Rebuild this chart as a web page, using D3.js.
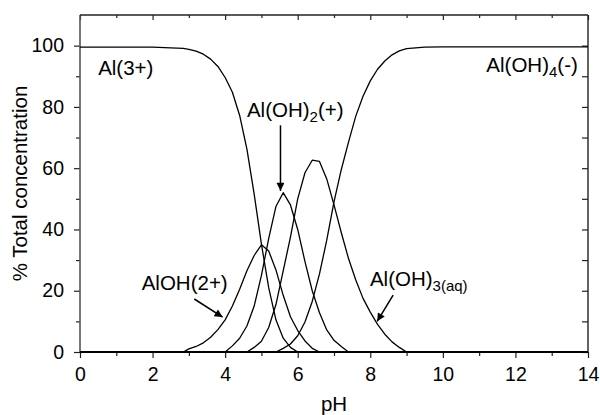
<!DOCTYPE html>
<html>
<head>
<meta charset="utf-8">
<script src="https://cdn.jsdelivr.net/npm/d3@7"></script>
<style>
  body { margin: 0; background: #fff; }
  svg text { font-family: "Liberation Sans", Arial, Helvetica, sans-serif; fill: #000; }
</style>
</head>
<body>
<div id="chart"></div>
<script>
// pH grid shared by every species
const ph = [0, 2, 2.5, 2.85, 3.0, 3.2, 3.4, 3.6, 3.8, 4.0, 4.2, 4.4, 4.6, 4.8, 5.0, 5.2, 5.4, 5.6, 5.8, 6.0,
            6.2, 6.4, 6.6, 6.8, 7.0, 7.2, 7.4, 7.6, 7.8, 8.0, 8.2, 8.4, 8.6, 8.8, 9.0, 9.5, 10, 14];

// % of total Al
const al3   = [99.5, 99.5, 99.3, 99.1, 98.8, 98.2, 97.2, 95.6, 93.2, 89.6, 84.8, 77.2, 66.2, 51.5, 35.2, 21.0, 10.5, 4.5, 1.5, 0,
               0, 0, 0, 0, 0, 0, 0, 0, 0, 0, 0, 0, 0, 0, 0, 0, 0, 0];
const aloh  = [0, 0, 0, 0, 1.0, 1.8, 3.0, 4.8, 7.3, 10.5, 15.0, 20.5, 26.5, 31.5, 35.0, 33.0, 26.8, 18.5, 11.5, 7.0,
               3.6, 1.2, 0, 0, 0, 0, 0, 0, 0, 0, 0, 0, 0, 0, 0, 0, 0, 0];
const aloh2 = [0, 0, 0, 0, 0, 0, 0, 0, 0, 0, 2.0, 4.5, 8.5, 15.0, 25.0, 37.0, 47.5, 52.0, 48.0, 40.0,
               29.5, 20.0, 12.8, 7.2, 3.8, 1.8, 0, 0, 0, 0, 0, 0, 0, 0, 0, 0, 0, 0];
const aloh3 = [0, 0, 0, 0, 0, 0, 0, 0, 0, 0, 0, 0, 0, 1.5, 3.5, 8.0, 15.5, 26.5, 37.5, 50.0,
               58.5, 62.6, 62.2, 56.5, 48.0, 39.0, 30.5, 23.5, 17.5, 13.0, 9.0, 5.8, 3.3, 1.5, 0, 0, 0, 0];
const aloh4 = [0, 0, 0, 0, 0, 0, 0, 0, 0, 0, 0, 0, 0, 0, 0, 0, 0, 1.2, 2.6, 5.3,
               9.8, 16.5, 25.5, 36.5, 49.0, 59.5, 68.5, 77.0, 83.5, 88.5, 92.3, 95.0, 97.0, 98.3, 99.0, 99.5, 99.6, 99.6];

const xTicks = [0, 2, 4, 6, 8, 10, 12, 14];
const xMinor = [1, 3, 5, 7, 9, 11, 13];
const yTicks = [0, 20, 40, 60, 80, 100];
const yMinor = [10, 30, 50, 70, 90];
const yAll = [0, 10, 20, 30, 40, 50, 60, 70, 80, 90, 100];

// species labels: [pH, %, main text, subscript, trailing text, anchor]
const labels = [
    [0.5, 90.5, 'Al(3+)', '', '', 'start'],
    [13.72, 91.3, 'Al(OH)', '4', '(-)', 'end'],
    [4.6, 76.8, 'Al(OH)', '2', '(+)', 'start'],
    [1.7, 20.3, 'AlOH(2+)', '', '', 'start'],
    [7.99, 21.6, 'Al(OH)', '3(aq)', '', 'start']
];

// arrows: [pH from, % from, pH to, % to]
const arrows = [
    [5.525, 74.0, 5.525, 52.6],
    [3.15, 17.3, 3.93, 11.4],
    [8.63, 18.6, 8.19, 10.0]
];

const W = 600, H = 415;
const margin = { top: 15, right: 12, bottom: 63, left: 80 };
const width = W - margin.left - margin.right;
const height = H - margin.top - margin.bottom;

const svg = d3.select('#chart').append('svg')
    .attr('width', W)
    .attr('height', H)
    .style('background', '#fff');

const g = svg.append('g')
    .attr('transform', `translate(${margin.left},${margin.top})`);

const x = d3.scaleLinear().domain([0, 14]).range([0, width]);
const y = d3.scaleLinear().domain([0, 110]).range([height, 0]);

function styleAxis(sel) {
    sel.select('.domain').remove();
    sel.selectAll('line').attr('stroke', '#222').attr('stroke-width', 1.2);
    sel.selectAll('text').style('font-size', '19.5px').attr('fill', '#000');
}

// bottom axis (ticks outward)
g.append('g')
    .attr('transform', `translate(0,${height})`)
    .call(d3.axisBottom(x).tickValues(xTicks).tickSize(6).tickPadding(9).tickFormat(d3.format('d')))
    .call(styleAxis);
g.append('g')
    .attr('transform', `translate(0,${height})`)
    .call(d3.axisBottom(x).tickValues(xMinor).tickSize(4).tickFormat(''))
    .call(styleAxis);

// left axis (ticks outward)
g.append('g')
    .call(d3.axisLeft(y).tickValues(yTicks).tickSize(6).tickPadding(10).tickFormat(d3.format('d')))
    .call(styleAxis);
g.append('g')
    .call(d3.axisLeft(y).tickValues(yMinor).tickSize(4).tickFormat(''))
    .call(styleAxis);

// top axis (ticks inward)
g.append('g')
    .call(d3.axisTop(x).tickValues(xTicks).tickSize(-5).tickFormat(''))
    .call(styleAxis);
g.append('g')
    .call(d3.axisTop(x).tickValues(xMinor).tickSize(-3).tickFormat(''))
    .call(styleAxis);

// right axis (ticks inward)
g.append('g')
    .attr('transform', `translate(${width},0)`)
    .call(d3.axisRight(y).tickValues(yAll).tickSize(-6).tickFormat(''))
    .call(styleAxis);

// frame
g.append('line').attr('x1', 0).attr('x2', 0).attr('y1', 0).attr('y2', height)
    .attr('stroke', '#555').attr('stroke-width', 1.6);
g.append('line').attr('x1', 0).attr('x2', width).attr('y1', 0).attr('y2', 0)
    .attr('stroke', '#222').attr('stroke-width', 1.4);
g.append('line').attr('x1', width).attr('x2', width).attr('y1', 0).attr('y2', height)
    .attr('stroke', '#222').attr('stroke-width', 1.4);

// species curves
const line = d3.line()
    .x(d => x(d[0]))
    .y(d => y(d[1]));

[al3, aloh, aloh2, aloh3, aloh4].forEach(vals => {
    g.append('path')
        .datum(ph.map((p, i) => [p, vals[i]]))
        .attr('fill', 'none')
        .attr('stroke', '#000')
        .attr('stroke-width', 1.3)
        .attr('stroke-linejoin', 'round')
        .attr('d', line);
});

// bottom axis line on top of zero values
g.append('line').attr('x1', 0).attr('x2', width).attr('y1', height).attr('y2', height)
    .attr('stroke', '#000').attr('stroke-width', 2);

// arrow marker
svg.append('defs').append('marker')
    .attr('id', 'head')
    .attr('viewBox', '0 0 10 10')
    .attr('refX', 10)
    .attr('refY', 5)
    .attr('markerWidth', 10)
    .attr('markerHeight', 8)
    .attr('markerUnits', 'userSpaceOnUse')
    .attr('orient', 'auto')
    .append('path')
    .attr('d', 'M0,0 L10,5 L0,10 Z')
    .attr('fill', '#000');

arrows.forEach(a => {
    g.append('line')
        .attr('x1', x(a[0])).attr('y1', y(a[1]))
        .attr('x2', x(a[2])).attr('y2', y(a[3]))
        .attr('stroke', '#000')
        .attr('stroke-width', 1.5)
        .attr('marker-end', 'url(#head)');
});

// species labels
labels.forEach(l => {
    const t = g.append('text')
        .attr('x', x(l[0]))
        .attr('y', y(l[1]))
        .attr('text-anchor', l[5])
        .style('font-size', '20.5px');
    t.append('tspan').text(l[2]);
    if (l[3]) {
        t.append('tspan').attr('dy', 5).style('font-size', '15px').text(l[3]);
        if (l[4]) t.append('tspan').attr('dy', -5).text(l[4]);
    }
});

// axis titles
g.append('text')
    .attr('x', width / 2)
    .attr('y', height + 59)
    .attr('text-anchor', 'middle')
    .style('font-size', '20.5px')
    .text('pH');

g.append('text')
    .attr('transform', 'rotate(-90)')
    .attr('x', -height / 2)
    .attr('y', -53)
    .attr('text-anchor', 'middle')
    .style('font-size', '20.5px')
    .text('% Total concentration');
</script>
</body>
</html>
